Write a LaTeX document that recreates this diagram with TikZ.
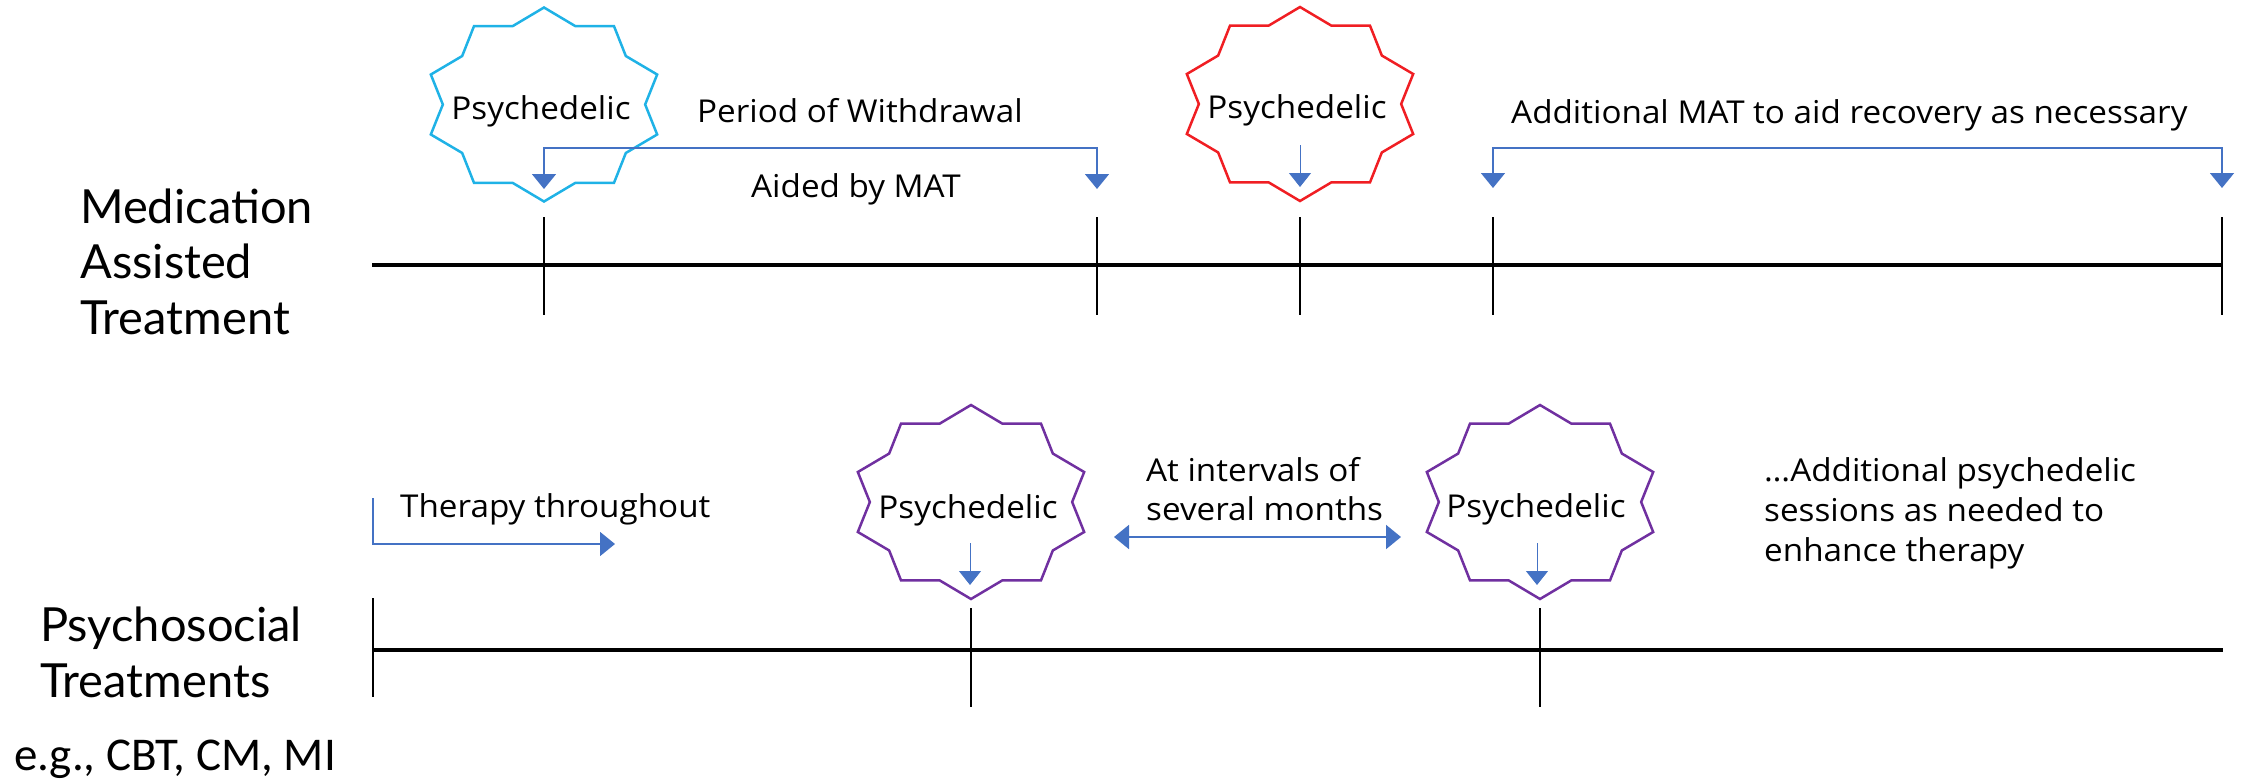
\documentclass[tikz,border=0pt]{standalone}
\usepackage{fontspec}
\setmainfont{Open Sans}[FakeStretch=1.055]
\newfontfamily\bigfont{Lato}
\newfontfamily\carlitofont{Carlito}
\usetikzlibrary{arrows.meta}
\definecolor{burstblue}{HTML}{1FB2E6}
\definecolor{burstred}{HTML}{F01E23}
\definecolor{burstpurple}{HTML}{7030A0}
\definecolor{arrowblue}{HTML}{4472C4}
\tikzset{
  timeline/.style={line width=4.5pt, black},
  tickmark/.style={line width=2.2pt, black},
  burstline/.style={line width=2.5pt, line join=miter, miter limit=20},
  conn/.style={draw=arrowblue, line width=1.6pt},
  head/.tip={Triangle[length=15pt,width=24pt]},
  smallhead/.tip={Triangle[length=14pt,width=22pt]},
  lbl/.style={inner sep=0pt, font=\fontsize{31.5}{40}\selectfont},
  psy/.style={inner sep=0pt, font=\fontsize{31.5}{40}\selectfont},
  sidelbl/.style={inner sep=0pt, align=left, font=\bigfont\fontsize{47}{55.5}\selectfont},
  eglbl/.style={inner sep=0pt, font=\carlitofont\fontsize{47}{50}\selectfont},
}
\newcommand\drawburst[3]{%
  \draw[burstline, draw=#3, shift={(#1,#2)}] (0,97)
    \foreach \k in {1,...,19}{ -- ({119*(1-0.15*mod(\k,2))*cos(90+18*\k)},{97*(1-0.15*mod(\k,2))*sin(90+18*\k)}) } -- cycle;}
\begin{document}
\begin{tikzpicture}[x=1pt,y=-1pt]
\path[use as bounding box] (0,0) rectangle (2255,780);

% ---------- left labels (base = baseline of last line) ----------
\node[sidelbl, anchor=base west] (mat) at (80,334) {Medication\\Assisted\\Treatment};
\node[sidelbl, anchor=base west] (psysoc) at (40,697) {Psychosocial\\Treatments};
\node[eglbl, anchor=base west] (eg) at (14,770) {e.g., CBT, CM, MI};

% ---------- top timeline ----------
\coordinate (ts) at (372,265);
\coordinate (te) at (2223,265);
\draw[timeline] (ts) -- (te);
\foreach \n/\x in {a/544, b/1097, c/1300, d/1493, e/2222}{
  \coordinate (tt\n) at (\x,217);
  \coordinate (tb\n) at (\x,315);
  \draw[tickmark] (tt\n) -- (tb\n);
}

% bursts top
\drawburst{544}{104.5}{burstblue}
\drawburst{1300}{104}{burstred}
\node[psy, anchor=base] (psyA) at (541,119) {Psychedelic};
\node[psy, anchor=base] (psyB) at (1297,118) {Psychedelic};

\node[lbl, anchor=base west] (withdrawal) at (697,122) {Period of Withdrawal};
\node[lbl, anchor=base west] (aided) at (751,197) {Aided by MAT};
\node[lbl, anchor=base west] (addmat) at (1511,123) {Additional MAT to aid recovery as necessary};

% brackets top
\coordinate (wA) at (544,189);
\coordinate (wB) at (544,148);
\coordinate (wC) at (1097,148);
\coordinate (wD) at (1097,189);
\draw[conn, head-head] (wA) -- (wB) -- (wC) -- (wD);
\coordinate (mA) at (1493,188);
\coordinate (mB) at (1493,148);
\coordinate (mC) at (2222,148);
\coordinate (mD) at (2222,188);
\draw[conn, head-head] (mA) -- (mB) -- (mC) -- (mD);
\coordinate (rA) at (1300,145);
\coordinate (rB) at (1300,187);
\draw[conn, line width=1pt, -smallhead] (rA) -- (rB);

% ---------- bottom timeline ----------
\coordinate (bs) at (373,650);
\coordinate (be) at (2223,650);
\draw[timeline] (bs) -- (be);
\coordinate (bt0) at (373,598);
\coordinate (bb0) at (373,697);
\draw[tickmark] (bt0) -- (bb0);
\coordinate (bt1) at (971,608);
\coordinate (bb1) at (971,707);
\draw[tickmark] (bt1) -- (bb1);
\coordinate (bt2) at (1540,608);
\coordinate (bb2) at (1540,707);
\draw[tickmark] (bt2) -- (bb2);

\drawburst{971}{502}{burstpurple}
\drawburst{1540}{502}{burstpurple}
\node[psy, anchor=base] (psyC) at (968,518) {Psychedelic};
\node[psy, anchor=base] (psyD) at (1536,517) {Psychedelic};

\coordinate (pA) at (970,543);
\coordinate (pB) at (970,585);
\draw[conn, line width=1pt, -smallhead] (pA) -- (pB);
\coordinate (qA) at (1537,543);
\coordinate (qB) at (1537,585);
\draw[conn, line width=1pt, -smallhead] (qA) -- (qB);

\node[lbl, anchor=base west] (therapy) at (400,517) {Therapy throughout};
\coordinate (thA) at (373,498);
\coordinate (thB) at (373,544);
\coordinate (thC) at (615,544);
\draw[conn, -head] (thA) -- (thB) -- (thC);

\node[lbl, anchor=base west, align=left, font=\fontsize{31.5}{39}\selectfont] (intervals) at (1146,520) {At intervals of\\several months};
\coordinate (iA) at (1114,537);
\coordinate (iB) at (1401,537);
\draw[conn, line width=2pt, head-head] (iA) -- (iB);

\node[lbl, anchor=base west, align=left, font=\fontsize{31.5}{40}\selectfont] (more) at (1764,561) {…Additional psychedelic\\sessions as needed to\\enhance therapy};
\end{tikzpicture}
\end{document}
